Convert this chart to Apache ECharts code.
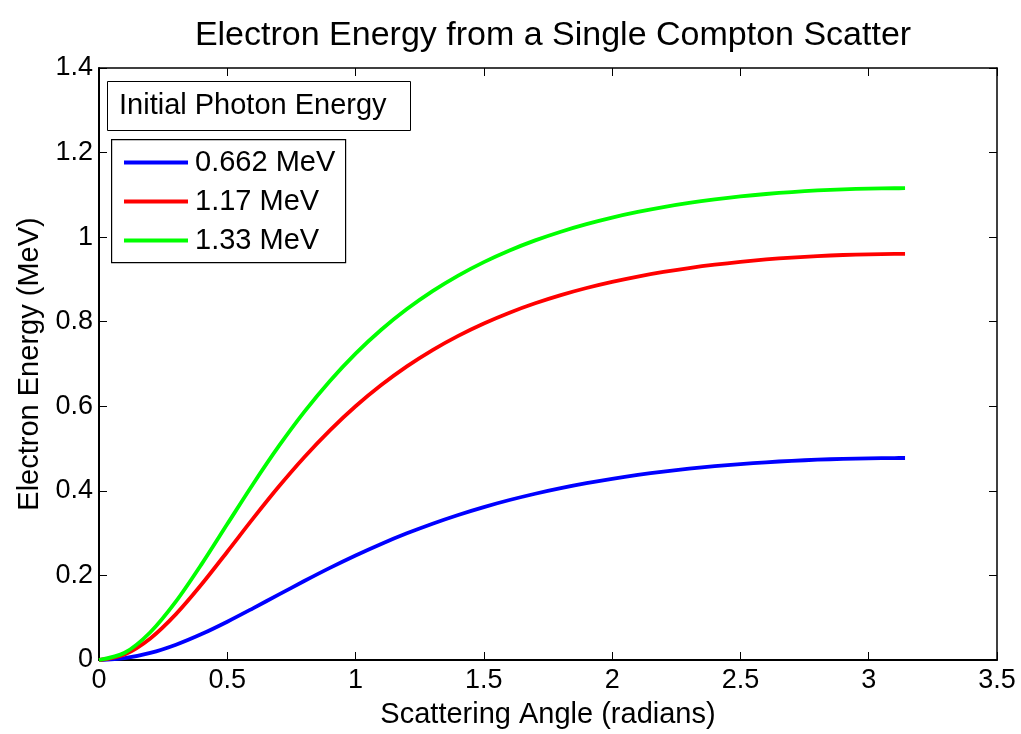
<!DOCTYPE html>
<html>
<head>
<meta charset="utf-8">
<script src="https://cdn.jsdelivr.net/npm/echarts@6/dist/echarts.min.js"></script>
<style>html,body{margin:0;padding:0;background:#fff}#c{width:1021px;height:734px}</style>
</head>
<body>
<div id="c"></div>
<script>
const angles = [0,0.1,0.2,0.3,0.4,0.5,0.6,0.7,0.8,0.9,1.0,1.1,1.2,1.3,1.4,1.5,1.6,1.7,1.8,1.9,2.0,2.1,2.2,2.3,2.4,2.5,2.6,2.7,2.8,2.9,3.0,3.1,3.1416];
const e0662 = [0,0.0043,0.0167,0.0362,0.0614,0.0906,0.1222,0.1546,0.1867,0.2178,0.2471,0.2744,0.2995,0.3223,0.3430,0.3616,0.3783,0.3932,0.4064,0.4181,0.4285,0.4376,0.4455,0.4524,0.4584,0.4634,0.4676,0.4710,0.4737,0.4757,0.4770,0.4776,0.4777];
const e117 = [0,0.0132,0.0511,0.1086,0.1791,0.2561,0.3342,0.4095,0.4795,0.5431,0.6000,0.6502,0.6944,0.7330,0.7666,0.7959,0.8214,0.8436,0.8629,0.8797,0.8942,0.9068,0.9177,0.9270,0.9350,0.9417,0.9472,0.9517,0.9552,0.9578,0.9594,0.9602,0.9603];
const e133 = [0,0.0171,0.0656,0.1385,0.2267,0.3214,0.4157,0.5050,0.5867,0.6599,0.7245,0.7809,0.8299,0.8724,0.9092,0.9410,0.9685,0.9923,1.0129,1.0307,1.0462,1.0595,1.0710,1.0808,1.0891,1.0962,1.1020,1.1067,1.1104,1.1130,1.1148,1.1156,1.1157];
const seriesNames = ['0.662 MeV','1.17 MeV','1.33 MeV'];
const seriesColors = ['#0000ff','#ff0000','#00ff00'];
const xTicks = [0,0.5,1,1.5,2,2.5,3,3.5];
const yTicks = [0,0.2,0.4,0.6,0.8,1,1.2,1.4];

const FONT = '"Liberation Sans", Arial, Helvetica, sans-serif';
const chart = echarts.init(document.getElementById('c'));
const pair = (ys) => angles.map((a,i)=>[a, ys[i]]);
const allData = [e0662, e117, e133];

const baseAxis = {
  axisLine:{show:true, onZero:false, lineStyle:{color:'#000', width:2}},
  axisTick:{show:true, inside:true, length:8, lineStyle:{color:'#000', width:1}},
  splitLine:{show:false},
};

chart.setOption({
  animation:false,
  backgroundColor:'#fff',
  title:{text:'Electron Energy from a Single Compton Scatter', left:548, textAlign:'center', top:14,
    textStyle:{fontFamily:FONT, fontSize:34, fontWeight:'normal', color:'#000'}},
  grid:{left:99, right:24, top:68, bottom:73, containLabel:false},
  legend:{orient:'vertical', left:124, top:148, icon:'rect', itemWidth:64, itemHeight:4, itemGap:10,
    padding:0, data:seriesNames,
    textStyle:{fontFamily:FONT, fontSize:29, color:'#000', padding:[0,0,0,2]}},
  xAxis:[
    Object.assign({}, baseAxis, {type:'value', min:0, max:3.5, interval:0.5, position:'bottom',
      name:'Scattering Angle (radians)', nameLocation:'middle', nameGap:40,
      nameTextStyle:{fontFamily:FONT, fontSize:29, color:'#000'},
      axisLabel:{fontFamily:FONT, fontSize:27, color:'#000', margin:7,
        formatter:(v)=> xTicks.includes(v) ? String(v) : ''}}),
    Object.assign({}, baseAxis, {type:'value', min:0, max:3.5, interval:0.5, position:'top',
      axisLine:{show:true, onZero:false, lineStyle:{color:'#000', width:1.5}},
      axisLabel:{show:false}})
  ],
  yAxis:[
    Object.assign({}, baseAxis, {type:'value', min:0, max:1.4, interval:0.2, position:'left',
      name:'Electron Energy (MeV)', nameLocation:'middle', nameGap:55,
      nameTextStyle:{fontFamily:FONT, fontSize:29, color:'#000'},
      axisLabel:{fontFamily:FONT, fontSize:27, color:'#000', margin:6,
        formatter:(v)=>{const t=yTicks.find(x=>Math.abs(x-v)<1e-9); return t===undefined?'':String(t);}}}),
    Object.assign({}, baseAxis, {type:'value', min:0, max:1.4, interval:0.2, position:'right',
      axisLine:{show:true, onZero:false, lineStyle:{color:'#000', width:1.5}},
      axisLabel:{show:false}})
  ],
  graphic:[
    {type:'rect', left:107, top:81, shape:{width:303, height:49}, style:{fill:'#fff', stroke:'#000', lineWidth:1}, z:100},
    {type:'text', x:119, y:106, style:{text:'Initial Photon Energy', font:'29px '+FONT, fill:'#000', verticalAlign:'middle'}, z:101},
    {type:'rect', left:111, top:139, shape:{width:234, height:123}, style:{fill:'#fff', stroke:'#000', lineWidth:1.2}, z:-1, zlevel:0}
  ],
  series: seriesNames.map((n,i)=>({
    name:n, type:'line', xAxisIndex:0, yAxisIndex:0, data:pair(allData[i]),
    showSymbol:false, symbol:'none', smooth:0.3, clip:false,
    color:seriesColors[i],
    lineStyle:{width:3.8, color:seriesColors[i]}
  }))
});
</script>
</body>
</html>
